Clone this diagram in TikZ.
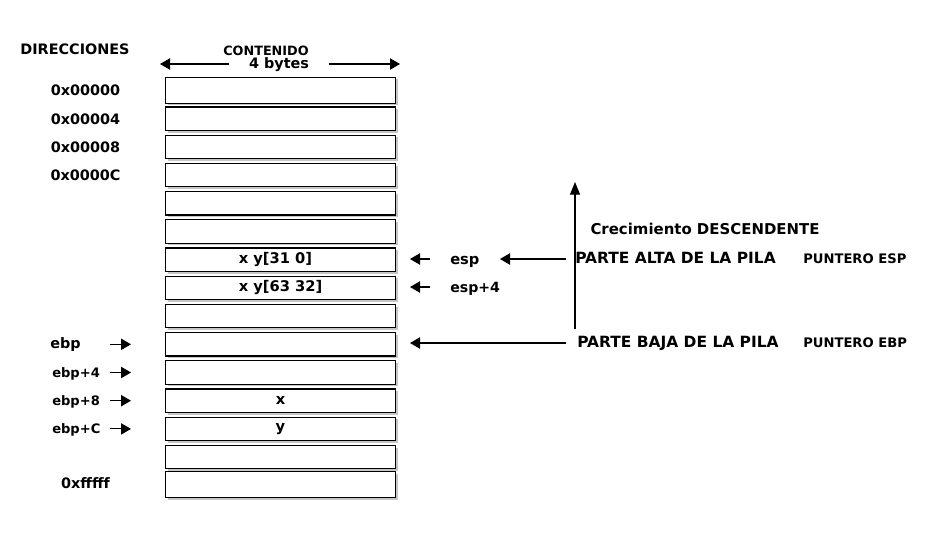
\documentclass[tikz,border=0pt]{standalone}
\usepackage{fontspec}
\setmainfont{DejaVu Sans}
\usetikzlibrary{arrows.meta, shadows}

\begin{document}
\begin{tikzpicture}[x=0.75pt, y=-0.75pt, font=\bfseries]
  \useasboundingbox (0,0) rectangle (930,532);
  \tikzstyle{CellStyle} = [draw, line width=0.9pt, fill=white, inner sep=0pt,
    minimum width=172.5pt, minimum height=17.6pt,
    font=\fontsize{11}{13}\selectfont\bfseries,
    drop shadow={shadow xshift=1.6pt, shadow yshift=-1.6pt, opacity=0.45}]
  \tikzstyle{EndStyle} = [minimum height=19.5pt]
  \tikzstyle{LabelStyle} = [inner sep=0pt, text height=0.73em, text depth=0pt,
    font=\fontsize{10.8}{12}\selectfont\bfseries]
  \tikzstyle{SmallStyle} = [inner sep=0pt, font=\fontsize{9.8}{11}\selectfont\bfseries]
  \tikzstyle{TinyStyle} = [inner sep=0pt, text height=0.73em, text depth=0pt,
    font=\fontsize{9.85}{11}\selectfont\bfseries]
  \tikzstyle{BigStyle} = [inner sep=0pt, text height=0.73em, text depth=0pt,
    font=\fontsize{11.6}{13}\selectfont\bfseries]
  \tikzstyle{ArrowStyle} = [line width=0.8pt, -{Triangle[length=7.5pt, width=8.5pt]}]
  % celdas
  \foreach \i/\txt in {1/,2/,3/,4/,5/,6/{x y[31 0]\phantom{2}},7/{x y[63 32]},8/,9/,10/,11/x,12/y,13/}
    \node[CellStyle] (c\i) at (280.5, {90.5+28.2*\i}) {\txt};
  \node[CellStyle, EndStyle] (c0) at (280.5, 90.3) {};
  \node[CellStyle, EndStyle] (c14) at (280.5, 484.5) {};
  % cabecera
  \node[LabelStyle] (dir) at (75,49.5) {DIRECCIONES};
  \node[TinyStyle, font=\fontsize{9.6}{11}\selectfont\bfseries] (cont) at (266,50.3) {CONTENIDO};
  \node[LabelStyle, inner xsep=14.5pt] (bytes) at (279,64) {4 bytes};
  \coordinate (wl) at (160,64);
  \coordinate (wr) at (400,64);
  \draw[ArrowStyle] (bytes) -- (wl);
  \draw[ArrowStyle] (bytes) -- (wr);
  % direcciones
  \foreach \i/\txt in {0/0x00000,1/0x00004,2/0x00008,3/0x0000C}
    \node[LabelStyle] (a\i) at (85.5, {91+28.2*\i}) {\txt};
  \node[LabelStyle] (a14) at (85.5,483.5) {0xfffff};
  % ebp
  \node[SmallStyle, font=\fontsize{10.8}{12}\selectfont\bfseries, anchor=base west] (b9) at (50,348) {ebp};
  \foreach \i/\txt in {10/ebp+4,11/ebp+8,12/ebp+C}
    \node[SmallStyle, anchor=base west] (b\i) at (52, {90.5+28.2*\i+4.6}) {\txt};
  \foreach \i in {9,...,12} {
    \coordinate (s\i) at (110, {90.5+28.2*\i});
    \coordinate (t\i) at (131, {90.5+28.2*\i});
    \draw[ArrowStyle] (s\i) -- (t\i);
  }
  % esp
  \node[SmallStyle, font=\fontsize{11}{13}\selectfont\bfseries, anchor=base west] (esp) at (450,264.5) {esp};
  \node[SmallStyle, font=\fontsize{10.6}{12}\selectfont\bfseries, anchor=base west] (esp4) at (450,292.5) {esp+4};
  \foreach \i/\y in {6/259,7/287} {
    \coordinate (u\i) at (430,\y);
    \coordinate (v\i) at (410,\y);
    \draw[ArrowStyle] (u\i) -- (v\i);
  }
  % pila
  \node[BigStyle, anchor=west] (alta) at (575,259) {PARTE ALTA DE LA PILA};
  \node[BigStyle, anchor=west] (baja) at (577,342.5) {PARTE BAJA DE LA PILA};
  \node[TinyStyle, anchor=west] (pesp) at (803,259) {PUNTERO ESP};
  \node[TinyStyle, anchor=west] (pebp) at (803,343) {PUNTERO EBP};
  \node[BigStyle, font=\fontsize{11.2}{13}\selectfont\bfseries] (crec) at (705,230) {Crecimiento DESCENDENTE};
  \coordinate (h0) at (566,259);
  \coordinate (h3) at (500,259);
  \coordinate (h1) at (566,343);
  \coordinate (h2) at (410,343);
  \draw[ArrowStyle] (h0) -- (h3);
  \draw[ArrowStyle] (h1) -- (h2);
  \coordinate (g0) at (575,329);
  \coordinate (g1) at (575,182);
  \draw[line width=0.8pt, -{Triangle[length=9.5pt, width=7.5pt]}] (g0) -- (g1);
\end{tikzpicture}
\end{document}
